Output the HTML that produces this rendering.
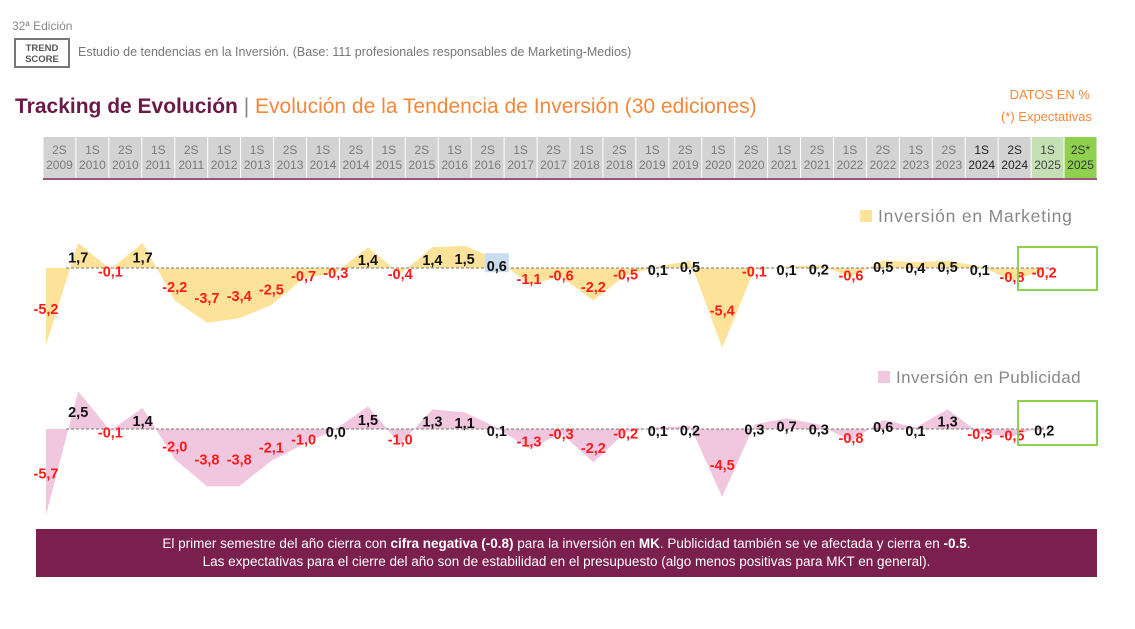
<!DOCTYPE html>
<html><head><meta charset="utf-8"><style>
body{margin:0;width:1135px;height:629px;background:#fff;font-family:"Liberation Sans",sans-serif;overflow:hidden;position:relative}
.abs{position:absolute}
</style></head><body>
<div class="abs" style="left:12px;top:19px;font-size:12px;color:#888">32ª Edición</div>
<div class="abs" style="left:14px;top:38px;width:56px;height:30px;border:2px solid #777;box-sizing:border-box;text-align:center;font-size:9.5px;font-weight:bold;color:#555;line-height:11px;padding-top:3px">TREND<br>SCORE</div>
<div class="abs" style="left:78px;top:45px;font-size:12.5px;color:#777">Estudio de tendencias en la Inversión. (Base: 111 profesionales responsables de Marketing-Medios)</div>
<div class="abs" style="left:15px;top:95px;font-size:21px;white-space:nowrap"><b style="color:#6b1a45">Tracking de Evolución</b> <span style="color:#888">|</span> <span style="color:#f5873a">Evolución de la Tendencia de Inversión (30 ediciones)</span></div>
<div class="abs" style="right:45px;top:87px;font-size:13px;color:#f5873a">DATOS EN %</div>
<div class="abs" style="right:43px;top:109px;font-size:13px;color:#f5873a">(*) Expectativas</div>
<svg class="abs" style="left:0;top:0" width="1135" height="629" id="chart"></svg>
<div class="abs" style="left:36px;top:529px;width:1061px;height:48px;background:#7b1f4f;color:#fff;font-size:13.5px;text-align:center;line-height:18px;padding-top:6px;box-sizing:border-box">El primer semestre del año cierra con <b>cifra negativa (-0.8)</b> para la inversión en <b>MK</b>. Publicidad también se ve afectada y cierra en <b>-0.5</b>.<br>Las expectativas para el cierre del año son de estabilidad en el presupuesto (algo menos positivas para MKT en general).</div>
<script>
const periods=["2S","1S","2S","1S","2S","1S","1S","2S","1S","2S","1S","2S","1S","2S","1S","2S","1S","2S","1S","2S","1S","2S","1S","2S","1S","2S","1S","2S","1S","2S","1S","2S*"];
const years=["2009","2010","2010","2011","2011","2012","2013","2013","2014","2014","2015","2015","2016","2016","2017","2017","2018","2018","2019","2019","2020","2020","2021","2021","2022","2022","2023","2023","2024","2024","2025","2025"];
const marketing=[-5.2,1.7,-0.1,1.7,-2.2,-3.7,-3.4,-2.5,-0.7,-0.3,1.4,-0.4,1.4,1.5,0.6,-1.1,-0.6,-2.2,-0.5,0.1,0.5,-5.4,-0.1,0.1,0.2,-0.6,0.5,0.4,0.5,0.1,-0.8,-0.2];
const publicidad=[-5.7,2.5,-0.1,1.4,-2.0,-3.8,-3.8,-2.1,-1.0,0.0,1.5,-1.0,1.3,1.1,0.1,-1.3,-0.3,-2.2,-0.2,0.1,0.2,-4.5,0.3,0.7,0.3,-0.8,0.6,0.1,1.3,-0.3,-0.5,0.2];
const svg=document.getElementById('chart');const NS="http://www.w3.org/2000/svg";
function mk(t,a){const e=document.createElementNS(NS,t);for(const k in a)e.setAttribute(k,a[k]);svg.appendChild(e);return e;}
const colX0=43,colW=(1097-43)/periods.length;
periods.forEach((p,i)=>{
 const x=colX0+i*colW;
 let bg='#d3d3d3',fc='#7a7a7a';
 if(i>=28&&i<30)fc='#222';
 if(i==30){bg='#c5e0b4';fc='#444';}
 if(i==31){bg='#8fd14f';fc='#333';}
 const r=mk('rect',{x:x+0.5,y:137,width:colW-1,height:41,fill:bg});
 
 
 const t1=mk('text',{x:x+colW/2,y:154,'text-anchor':'middle','font-size':12,fill:fc});t1.textContent=p;
 
 
 const t2=mk('text',{x:x+colW/2,y:169,'text-anchor':'middle','font-size':12,fill:fc});t2.textContent=years[i];
 
 
});
const hl=mk('line',{x1:43,x2:1097,y1:179,y2:179,stroke:'#7b1f4f','stroke-width':1.5});


const xs=i=>46+i*32.2;
function series(vals,base,scale,fill,name){
 const ys=v=>base-v*scale;
 let pts=`${xs(0)},${base} `+vals.map((v,i)=>`${xs(i)},${ys(v)}`).join(' ')+` ${xs(vals.length-1)},${base}`;
 const p=mk('polygon',{points:pts,fill:fill});
 
 
 const l=mk('line',{x1:66,x2:1050,y1:base,y2:base,stroke:'#777','stroke-dasharray':'3,2','stroke-width':1});
 
 
 vals.forEach((v,i)=>{
  const cy=v<0?base+3+7.3*(-v):base+3-8*v;
  if(name==='marketing'&&i===14){const hb=mk('rect',{x:xs(i)-12,y:cy-13,width:24,height:19,fill:'#c9dcf0'});}
  const t=mk('text',{x:xs(i),y:cy+5,'text-anchor':'middle','font-size':14.5,'font-weight':'bold',fill:v<0?'#ff1a1a':'#111'});
  t.textContent=v.toFixed(1).replace('.',',');
  
  
 });
}
series(marketing,268,14.8,'#fde39a','marketing');
series(publicidad,429,15.1,'#f1c6df','publicidad');
const b1=mk('rect',{x:1018,y:247,width:79,height:43,fill:'none',stroke:'#8fd14f','stroke-width':2});


const b2=mk('rect',{x:1018,y:401,width:79,height:44,fill:'none',stroke:'#8fd14f','stroke-width':2});


function legend(x,y,color,label,nm,fs,ls){
 const r=mk('rect',{x:x,y:y-11,width:12,height:12,fill:color});
 
 
 const t=mk('text',{x:x+18,y:y+1,'font-size':fs,'letter-spacing':ls,fill:'#888'});t.textContent=label;
 
 
}
legend(860,221,'#fde39a','Inversión en Marketing','marketing',17.5,0.8);
legend(878,382,'#f1c6df','Inversión en Publicidad','publicidad',17,0.4);
</script>
</body></html>
